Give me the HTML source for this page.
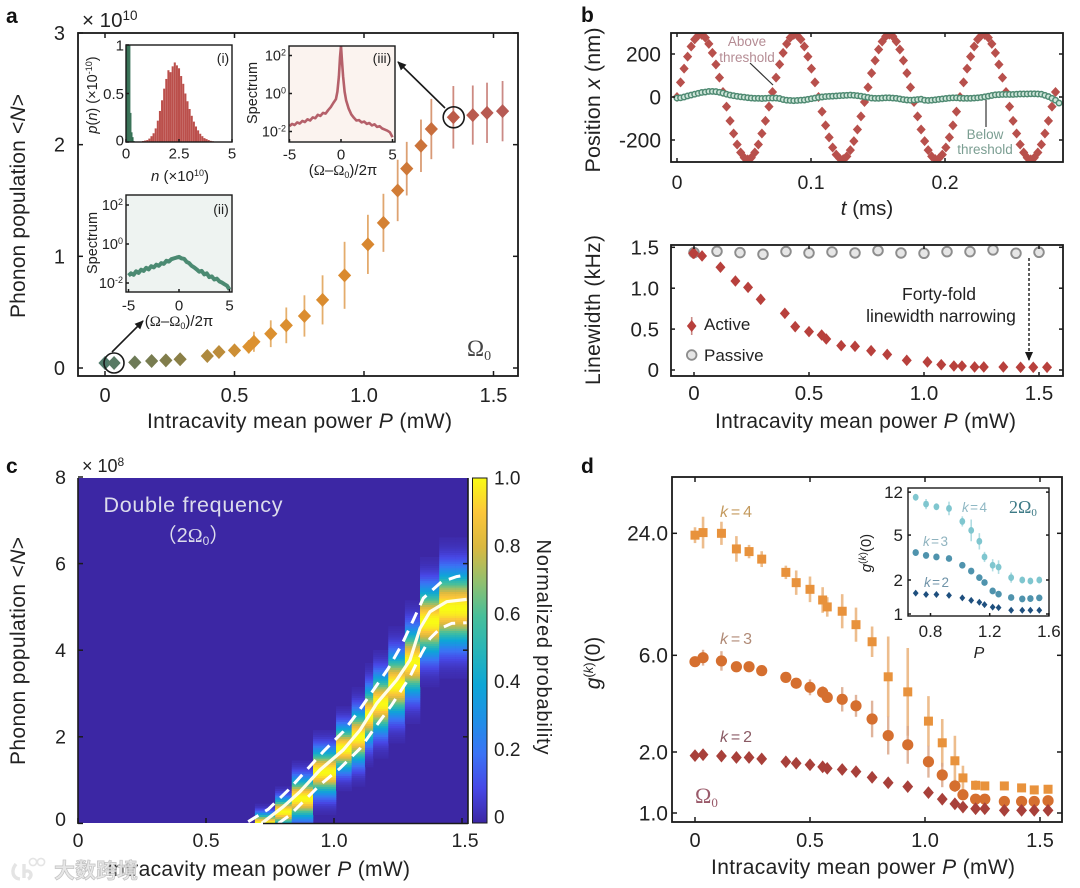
<!DOCTYPE html>
<html lang="en">
<head>
<meta charset="utf-8">
<title>Phonon laser figure</title>
<style>
html,body{margin:0;padding:0;background:#fff;}
svg{display:block;filter:blur(.35px);font-family:"Liberation Sans","Noto Sans CJK SC",sans-serif;fill:#222;}
.serif{font-family:"Liberation Serif","DejaVu Serif",serif;}
</style>
</head>
<body>
<svg id="figure" xmlns="http://www.w3.org/2000/svg" width="1080" height="888" viewBox="0 0 1080 888">
<defs>
<marker id="arrow-head" markerWidth="9" markerHeight="8" refX="8" refY="4" orient="auto" markerUnits="userSpaceOnUse"><path d="M0,0 L9,4 L0,8 Z" fill="#1a1a1a"/></marker>
<clipPath id="clip-a-i"><rect x="126" y="45" width="106" height="97"/></clipPath>
<clipPath id="clip-a-ii"><rect x="126" y="195" width="106" height="97"/></clipPath>
<clipPath id="clip-a-iii"><rect x="289" y="46" width="106" height="96"/></clipPath>
<clipPath id="clip-b-top"><rect x="671" y="33" width="392" height="129"/></clipPath>
<clipPath id="clip-c"><rect x="78" y="478" width="390" height="345"/></clipPath>
<linearGradient id="colorbar-gradient" x1="0" y1="1" x2="0" y2="0"></linearGradient>
</defs>
<rect width="1080" height="888" fill="#fff"/>

<!-- Panel a -->
<g id="panel-a">
  <text x="6" y="23" font-size="21" font-weight="bold" fill="#111">a</text>
  <text x="82" y="27" font-size="20.5">× 10<tspan font-size="13.5" dy="-7">10</tspan></text>
  <rect x="78" y="33" width="440" height="343" fill="none" stroke="#1a1a1a" stroke-width="1.8"/>
  <text transform="translate(25,206) rotate(-90)" text-anchor="middle" font-size="21" textLength="224" lengthAdjust="spacing">Phonon population &lt;<tspan font-style="italic">N</tspan>&gt;</text>
  <text x="147" y="428" font-size="21.2" textLength="305" lengthAdjust="spacing">Intracavity mean power <tspan font-style="italic">P</tspan> (mW)</text>
  <text class="serif" x="467" y="356" font-size="23" fill="#444">Ω<tspan font-size="14" dy="4">0</tspan></text>
  <g id="a-marks"></g>
  <circle cx="114" cy="363" r="10" fill="none" stroke="#1a1a1a" stroke-width="1.6"/>
  <circle cx="453.7" cy="117.3" r="10.5" fill="none" stroke="#1a1a1a" stroke-width="1.6"/>
  <line x1="112" y1="352" x2="143" y2="321" stroke="#1a1a1a" stroke-width="1.6" marker-end="url(#arrow-head)"/>
  <line x1="445" y1="108" x2="398" y2="62" stroke="#1a1a1a" stroke-width="1.6" marker-end="url(#arrow-head)"/>

  <g id="inset-i">
    <rect x="126" y="45" width="106" height="97" fill="#fff"/>
    <g id="inset-i-marks" clip-path="url(#clip-a-i)"></g>
    <rect x="126" y="45" width="106" height="97" fill="none" stroke="#1a1a1a" stroke-width="1.4"/>
    <text x="223" y="63" text-anchor="middle" font-size="14">(i)</text>
    <text transform="translate(97,95) rotate(-90)" text-anchor="middle" font-size="14.5"><tspan font-style="italic">p</tspan>(<tspan font-style="italic">n</tspan>) (×10<tspan font-size="9" dy="-5">-10</tspan><tspan dy="5">)</tspan></text>
    <text x="180" y="181" text-anchor="middle" font-size="15"><tspan font-style="italic">n</tspan> (×10<tspan font-size="9" dy="-5">10</tspan><tspan dy="5">)</tspan></text>
  </g>
  <g id="inset-ii">
    <rect x="126" y="195" width="106" height="97" fill="#eef3f1"/>
    <g id="inset-ii-marks" clip-path="url(#clip-a-ii)"></g>
    <rect x="126" y="195" width="106" height="97" fill="none" stroke="#1a1a1a" stroke-width="1.4"/>
    <text x="221" y="214" text-anchor="middle" font-size="14">(ii)</text>
    <text transform="translate(97,243) rotate(-90)" text-anchor="middle" font-size="14.5">Spectrum</text>
    <text x="179" y="326" text-anchor="middle" font-size="15">(<tspan class="serif">Ω</tspan>–<tspan class="serif">Ω</tspan><tspan font-size="9" dy="3">0</tspan><tspan dy="-3">)/2π</tspan></text>
  </g>
  <g id="inset-iii">
    <rect x="289" y="46" width="106" height="96" fill="#fbf3ef"/>
    <g id="inset-iii-marks" clip-path="url(#clip-a-iii)"></g>
    <rect x="289" y="46" width="106" height="96" fill="none" stroke="#1a1a1a" stroke-width="1.4"/>
    <text x="382" y="63" text-anchor="middle" font-size="14">(iii)</text>
    <text transform="translate(257,93) rotate(-90)" text-anchor="middle" font-size="14.5">Spectrum</text>
    <text x="343" y="175" text-anchor="middle" font-size="15">(<tspan class="serif">Ω</tspan>–<tspan class="serif">Ω</tspan><tspan font-size="9" dy="3">0</tspan><tspan dy="-3">)/2π</tspan></text>
  </g>
</g>

<!-- Panel b -->
<g id="panel-b">
  <text x="581" y="22" font-size="21" font-weight="bold" fill="#111">b</text>
  <g id="b-top-marks" clip-path="url(#clip-b-top)"></g>
  <rect x="671" y="33" width="392" height="129" fill="none" stroke="#1a1a1a" stroke-width="1.8"/>
  <text transform="translate(600,100) rotate(-90)" text-anchor="middle" font-size="21.5" textLength="145" lengthAdjust="spacing">Position <tspan font-style="italic">x</tspan> (nm)</text>
  <text x="867" y="215" text-anchor="middle" font-size="20.5"><tspan font-style="italic">t</tspan> (ms)</text>
  <text x="747" y="46" text-anchor="middle" font-size="13.5" fill="#b58c94">Above</text>
  <text x="747" y="62" text-anchor="middle" font-size="13.5" fill="#b58c94">threshold</text>
  <line x1="750" y1="63" x2="773" y2="85" stroke="#333" stroke-width="1.2"/>
  <text x="985" y="139" text-anchor="middle" font-size="13.5" fill="#7b9e92">Below</text>
  <text x="985" y="154" text-anchor="middle" font-size="13.5" fill="#7b9e92">threshold</text>
  <line x1="986" y1="100" x2="986" y2="127" stroke="#333" stroke-width="1.2"/>

  <g id="b-bottom-marks"></g>
  <rect x="671" y="245" width="392" height="131" fill="none" stroke="#1a1a1a" stroke-width="1.8"/>
  <text transform="translate(600,310) rotate(-90)" text-anchor="middle" font-size="21" textLength="150" lengthAdjust="spacing">Linewidth (kHz)</text>
  <text x="715" y="428" font-size="21" textLength="301" lengthAdjust="spacing">Intracavity mean power <tspan font-style="italic">P</tspan> (mW)</text>
  <line x1="691.7" y1="317" x2="691.7" y2="335" stroke="#c98a86" stroke-width="1.6"/>
  <polygon points="691.7,320 696.5,326 691.7,332 686.9,326" fill="#b8403c"/>
  <text x="704" y="330" font-size="17">Active</text>
  <circle cx="691.7" cy="355" r="4.8" fill="#e6e6e6" stroke="#8d8d8d" stroke-width="1.8"/>
  <text x="704" y="361" font-size="17">Passive</text>
  <text x="939" y="300" text-anchor="middle" font-size="17.5">Forty-fold</text>
  <text x="941" y="322" text-anchor="middle" font-size="17.5">linewidth narrowing</text>
  <line x1="1029" y1="258" x2="1029" y2="360" stroke="#1a1a1a" stroke-width="1.4" stroke-dasharray="3 2" marker-end="url(#arrow-head)"/>
</g>

<!-- Panel c -->
<g id="panel-c">
  <text x="6" y="473" font-size="21" font-weight="bold" fill="#111">c</text>
  <text x="82" y="472" font-size="18">× 10<tspan font-size="12" dy="-6">8</tspan></text>
  <rect x="78" y="478" width="390" height="345" fill="#3c27a4"/>
  <g id="c-cells" clip-path="url(#clip-c)"></g>
  <g id="c-curves" clip-path="url(#clip-c)"></g>
  <line x1="78" y1="478" x2="78" y2="824" stroke="#1a1a1a" stroke-width="1.6"/>
  <line x1="263" y1="823.5" x2="468" y2="823.5" stroke="#1a1a1a" stroke-width="1.6"/>
  <line x1="468" y1="478" x2="468" y2="824" stroke="#1a1a1a" stroke-width="1.6"/>
  <g id="c-ticks"></g>
  <text x="193" y="512" text-anchor="middle" font-size="21.5" fill="#dcdcec" textLength="179" lengthAdjust="spacing">Double frequency</text>
  <text x="193" y="542" text-anchor="middle" font-size="20" fill="#dcdcec">（2<tspan class="serif">Ω</tspan><tspan font-size="12" dy="3">0</tspan><tspan dy="-3">）</tspan></text>
  <rect x="472.5" y="478" width="14.5" height="345" fill="url(#colorbar-gradient)" stroke="#1a1a1a" stroke-width="1"/>
  <g id="c-colorbar-ticks"></g>
  <text transform="translate(537,647) rotate(90)" text-anchor="middle" font-size="20" textLength="215" lengthAdjust="spacing">Normalized probability</text>
  <text transform="translate(25,651) rotate(-90)" text-anchor="middle" font-size="21" textLength="228" lengthAdjust="spacing">Phonon population &lt;<tspan font-style="italic">N</tspan>&gt;</text>
  <text x="107" y="876" font-size="21" textLength="303" lengthAdjust="spacing">Intracavity mean power <tspan font-style="italic">P</tspan> (mW)</text>
</g>

<!-- Panel d -->
<g id="panel-d">
  <text x="581" y="473" font-size="21" font-weight="bold" fill="#111">d</text>
  <g id="d-marks"></g>
  <rect x="672" y="477" width="390" height="345" fill="none" stroke="#1a1a1a" stroke-width="1.8"/>
  <text transform="translate(600,663) rotate(-90)" text-anchor="middle" font-size="21"><tspan font-style="italic">g</tspan><tspan font-size="13" dy="-7">(<tspan font-style="italic">k</tspan>)</tspan><tspan dy="7">(0)</tspan></text>
  <text x="711" y="874" font-size="21" textLength="304" lengthAdjust="spacing">Intracavity mean power <tspan font-style="italic">P</tspan> (mW)</text>
  <text x="720" y="517" font-size="16" fill="#c49a5e" textLength="32" lengthAdjust="spacing"><tspan font-style="italic">k</tspan>=4</text>
  <text x="720" y="644" font-size="16" fill="#b08a76" textLength="32" lengthAdjust="spacing"><tspan font-style="italic">k</tspan>=3</text>
  <text x="720" y="742" font-size="16" fill="#8a5a64" textLength="32" lengthAdjust="spacing"><tspan font-style="italic">k</tspan>=2</text>
  <text class="serif" x="695" y="803" font-size="22" fill="#9a5a6a">Ω<tspan font-size="13" dy="4">0</tspan></text>

  <g id="d-inset">
    <rect x="908" y="488" width="141" height="128" fill="#fff"/>
    <g id="d-inset-marks"></g>
    <rect x="908" y="488" width="141" height="128" fill="none" stroke="#1a1a1a" stroke-width="1.4"/>
    <text transform="translate(871,553) rotate(-90)" text-anchor="middle" font-size="15"><tspan font-style="italic">g</tspan><tspan font-size="10" dy="-5">(<tspan font-style="italic">k</tspan>)</tspan><tspan dy="5">(0)</tspan></text>
    <text x="979" y="658" text-anchor="middle" font-size="16" font-style="italic">P</text>
    <text x="962" y="512" font-size="13.5" fill="#8fb8c4" textLength="25" lengthAdjust="spacing"><tspan font-style="italic">k</tspan>=4</text>
    <text x="923" y="546" font-size="13.5" fill="#8fb3bf" textLength="25" lengthAdjust="spacing"><tspan font-style="italic">k</tspan>=3</text>
    <text x="924" y="587" font-size="13.5" fill="#6f93a8" textLength="25" lengthAdjust="spacing"><tspan font-style="italic">k</tspan>=2</text>
    <text class="serif" x="1009" y="513" font-size="18" fill="#3d7a86">2Ω<tspan font-size="11" dy="3">0</tspan></text>
  </g>
</g>

<!-- Watermark -->
<g id="watermark" opacity="0.92">
  <path d="M16,864 C11,870 12,878 20,879 M24,864 L24,878 M24,872 C30,868 34,876 28,879" fill="none" stroke="#e2e2e2" stroke-width="3.4"/>
  <circle cx="33" cy="862" r="3.6" fill="none" stroke="#e2e2e2" stroke-width="1.6"/>
  <circle cx="41" cy="862" r="3.6" fill="none" stroke="#e2e2e2" stroke-width="1.6"/>
  <text x="54" y="878" font-size="21" font-weight="bold" fill="#e6e6e6" stroke="#bdbdbd" stroke-width="0.7" style="font-family:'Noto Sans CJK SC','Liberation Sans',sans-serif">大数跨境</text>
</g>

<script>
// ---------- shared data ----------
const powerMw = [0,0.035,0.115,0.18,0.235,0.29,0.395,0.44,0.5,0.555,0.575,0.64,0.70,0.77,0.84,0.925,1.015,1.075,1.13,1.165,1.22,1.26,1.345,1.42,1.475,1.535];

// ---------- panel a data ----------
const populationN = [0.045,0.045,0.05,0.063,0.068,0.078,0.107,0.143,0.158,0.19,0.235,0.307,0.382,0.466,0.61,0.83,1.107,1.30,1.59,1.785,1.99,2.14,2.245,2.265,2.285,2.30];
const populationErr = [0.02,0.02,0.02,0.02,0.02,0.02,0.03,0.04,0.05,0.06,0.09,0.12,0.16,0.185,0.22,0.30,0.265,0.26,0.275,0.24,0.235,0.27,0.28,0.265,0.27,0.27];
const aXTicks = [0,0.5,1.0,1.5];
const aXTickLabels = ['0','0.5','1.0','1.5'];
const aYTicks = [0,1,2,3];
const aYTickLabels = ['0','1','2','3'];

const histAboveN = [0.5,0.6,0.7,0.8,0.9,1.0,1.1,1.2,1.3,1.4,1.5,1.6,1.7,1.8,1.9,2.0,2.1,2.2,2.3,2.4,2.5,2.6,2.7,2.8,2.9,3.0,3.1,3.2,3.3,3.4,3.5,3.6,3.7,3.8,3.9,4.0,4.1,4.2,4.3,4.4,4.5];
const histAboveP = [0,0,0.005,0.01,0.015,0.02,0.035,0.06,0.09,0.14,0.22,0.32,0.43,0.55,0.65,0.74,0.72,0.78,0.82,0.79,0.76,0.68,0.6,0.5,0.42,0.34,0.27,0.21,0.16,0.12,0.085,0.06,0.04,0.03,0.02,0.012,0.008,0.005,0,0,0];
const histBelowN = [0,0.05,0.1,0.15,0.2,0.25,0.3,0.35];
const histBelowP = [1,1,1,1,0.3,0.1,0.05,0.01];

const detuningII = [-5,-4.75,-4.5,-4.25,-4,-3.75,-3.5,-3.25,-3,-2.75,-2.5,-2.25,-2,-1.75,-1.5,-1.25,-1,-0.75,-0.5,-0.25,0,0.25,0.5,0.75,1,1.25,1.5,1.75,2,2.25,2.5,2.75,3,3.25,3.5,3.75,4,4.25,4.5,4.75,5];
const spectrumIILog = [-1.62,-1.5,-1.58,-1.4,-1.48,-1.32,-1.38,-1.22,-1.3,-1.14,-1.2,-1.06,-1.12,-0.98,-1.02,-0.86,-0.9,-0.78,-0.74,-0.7,-0.66,-0.74,-0.76,-0.92,-0.98,-1.12,-1.2,-1.3,-1.42,-1.38,-1.56,-1.5,-1.7,-1.66,-1.82,-1.78,-1.92,-1.98,-2.06,-2.14,-2.34];
const detuningIII = [-5,-4.75,-4.5,-4.25,-4,-3.75,-3.5,-3.25,-3,-2.75,-2.5,-2.25,-2,-1.75,-1.5,-1.25,-1,-0.75,-0.5,-0.35,-0.2,-0.1,0,0.1,0.2,0.35,0.5,0.75,1,1.25,1.5,1.75,2,2.25,2.5,2.75,3,3.25,3.5,3.75,4,4.25,4.5,4.75,5];
const spectrumIIILog = [-1.72,-1.6,-1.66,-1.52,-1.58,-1.44,-1.5,-1.36,-1.42,-1.26,-1.3,-1.12,-1.18,-1.02,-1.06,-0.88,-0.72,-0.5,-0.3,0.1,0.9,1.9,2.5,1.7,0.9,0.1,-0.35,-0.8,-1.1,-1.28,-1.42,-1.4,-1.52,-1.48,-1.6,-1.55,-1.68,-1.62,-1.76,-1.72,-1.84,-1.9,-1.96,-2.04,-2.3];
const spectrumExponents = [2,0,-2];
const detuningTicks = [-5,0,5];
const detuningTickLabels = ['-5','0','5'];
const histXTicks = [0,2.5,5];
const histXTickLabels = ['0','2.5','5'];
const histYTicks = [0,0.5,1];
const histYTickLabels = ['0','0.5','1'];

// ---------- panel b data ----------
const aboveThresholdNm = [0,68,132,188,235,268,286,289,276,247,205,151,90,23,-45,-111,-170,-221,-258,-282,-290,-282,-258,-221,-170,-111,-45,23,90,152,205,247,276,289,286,268,235,188,132,68,0,-68,-132,-188,-235,-268,-286,-289,-276,-247,-205,-151,-90,-23,45,111,170,221,258,282,290,282,258,221,170,111,45,-23,-90,-151,-205,-247,-276,-289,-286,-268,-235,-188,-132,-68,0,68,132,188,235,268,286,289,276,247,205,151,90,23,-45,-111,-170,-221,-258,-282,-290,-282,-258,-221,-170,-111,-45,23];
const belowThresholdNm = [-5,-4,0,5,9,13,17,21,23,26,26,25,22,18,13,9,6,3,1,-1,-3,-5,-6,-6,-7,-6,-5,-5,-5,-7,-12,-15,-16,-17,-16,-15,-14,-11,-8,-5,-2,0,2,3,4,5,6,7,8,9,8,6,4,1,-2,-5,-6,-6,-5,-4,-4,-5,-6,-9,-12,-14,-15,-14,-12,-10,-15,-16,-15,-13,-11,-9,-7,-5,-4,-4,-5,-6,-6,-6,-5,-4,-2,1,4,7,10,11,12,12,12,12,13,14,14,14,15,15,14,13,8,2,-6,-15,-28];
const sampleStepMs = 0.00264;
const bTopXTicks = [0,0.1,0.2];
const bTopXTickLabels = ['0','0.1','0.2'];
const bTopYTicks = [200,0,-200];
const bTopYTickLabels = ['200','0','-200'];

const activePower = [-0.004,0,0.035,0.115,0.18,0.235,0.29,0.395,0.44,0.5,0.555,0.575,0.64,0.70,0.77,0.84,0.925,1.015,1.075,1.13,1.165,1.22,1.26,1.345,1.42,1.475,1.535];
const activeLinewidth = [1.427,1.427,1.394,1.256,1.088,1.01,0.864,0.693,0.53,0.469,0.428,0.379,0.298,0.289,0.236,0.19,0.118,0.098,0.065,0.049,0.049,0.037,0.037,0.037,0.033,0.033,0.033];
const passivePower = [0,0.1,0.2,0.3,0.4,0.5,0.6,0.7,0.8,0.9,1.0,1.1,1.2,1.3,1.4,1.5];
const passiveLinewidth = [1.435,1.451,1.435,1.415,1.448,1.431,1.443,1.431,1.46,1.431,1.427,1.447,1.447,1.468,1.427,1.439];
const bBotXTicks = [0,0.5,1.0,1.5];
const bBotXTickLabels = ['0','0.5','1.0','1.5'];
const bBotYTicks = [1.5,1.0,0.5,0];
const bBotYTickLabels = ['1.5','1.0','0.5','0'];

// ---------- panel c data ----------
const binEdgesP = [0.691,0.77,0.835,0.918,1.008,1.069,1.121,1.153,1.212,1.277,1.336,1.411,1.473,1.525];
const columnMeanN = [0.0,0.27,0.58,1.19,1.73,2.0,2.5,2.77,3.2,3.73,4.66,4.97,4.97];
const columnSigmaN = [0.15,0.2,0.3,0.33,0.33,0.38,0.4,0.42,0.45,0.48,0.5,0.55,0.55];
const solidCurveP = [0.717,0.802,0.867,0.945,1.036,1.102,1.167,1.245,1.297,1.336,1.375,1.44,1.518];
const solidCurveN = [0,0.386,0.733,1.233,1.695,2.157,2.774,3.312,3.774,4.505,4.889,5.12,5.173];
const upperCurveP = [0.665,0.743,0.822,0.893,0.958,1.036,1.095,1.154,1.212,1.264,1.31,1.349,1.42,1.479,1.518];
const upperCurveN = [0.04,0.326,0.771,1.233,1.656,2.118,2.58,3.08,3.58,4.12,4.70,5.2,5.58,5.70,5.74];
const lowerCurveP = [0.783,0.828,0.945,1.023,1.102,1.167,1.225,1.297,1.342,1.375,1.414,1.46,1.518];
const lowerCurveN = [0,0.194,0.887,1.27,1.73,2.27,2.73,3.39,3.93,4.27,4.5,4.62,4.635];
const cXTicks = [0,0.5,1.0,1.5];
const cXTickLabels = ['0','0.5','1.0','1.5'];
const cYTicks = [0,2,4,6,8];
const cYTickLabels = ['0','2','4','6','8'];
const colorbarTicks = [0,0.2,0.4,0.6,0.8,1.0];
const colorbarTickLabels = ['0','0.2','0.4','0.6','0.8','1.0'];

// ---------- panel d data ----------
const gK4 = [23.5,24.2,24.0,20.1,19.5,17.9,15.4,13.7,12.7,11.25,10.4,9.9,8.5,7.0,4.7,3.96,2.84,2.22,1.81,1.49,1.37,1.36,1.36,1.33,1.30,1.31];
const gK4ErrOctaves = [0.13,0.26,0.19,0.21,0.11,0.13,0.11,0.2,0.21,0.21,0.16,0.28,0.28,0.25,0.66,0.72,0.41,0.39,0.41,0.2,0.08,0.07,0.07,0.07,0.07,0.07];
const gK3 = [5.58,5.84,5.63,5.27,5.27,5.04,4.67,4.37,4.17,3.94,3.72,3.64,3.38,2.91,2.41,2.17,1.79,1.54,1.36,1.23,1.17,1.17,1.14,1.14,1.14,1.15];
const gK3ErrOctaves = [0.05,0.13,0.16,0.07,0.05,0.07,0.05,0.05,0.13,0.1,0.07,0.2,0.18,0.3,0.31,0.31,0.26,0.2,0.1,0.05,0.04,0.04,0.04,0.04,0.04,0.04];
const gK2 = [1.92,1.94,1.91,1.88,1.88,1.85,1.79,1.76,1.73,1.69,1.66,1.64,1.60,1.50,1.41,1.35,1.26,1.17,1.11,1.07,1.05,1.05,1.03,1.03,1.03,1.03];
const gK2ErrOctaves = [0.05,0.05,0.05,0.05,0.05,0.05,0.05,0.05,0.05,0.05,0.05,0.05,0.05,0.05,0.06,0.06,0.06,0.06,0.05,0.05,0.05,0.05,0.05,0.05,0.05,0.05];
const dXTicks = [0,0.5,1.0,1.5];
const dXTickLabels = ['0','0.5','1.0','1.5'];
const dYTicks = [24,6,2,1];
const dYTickLabels = ['24.0','6.0','2.0','1.0'];

const insetPower = [0.70,0.77,0.84,0.925,1.015,1.075,1.13,1.165,1.22,1.26,1.345,1.42,1.475,1.535];
const insetK4 = [10.8,9.4,8.9,8.6,6.6,5.5,4.4,3.2,2.7,2.6,2.1,2.0,1.96,2.0];
const insetK4ErrOctaves = [0.1,0.15,0.1,0.2,0.15,0.32,0.24,0.15,0.18,0.2,0.15,0.1,0.1,0.1];
const insetK3 = [3.5,3.3,3.2,3.1,2.7,2.4,2.1,1.9,1.6,1.5,1.4,1.36,1.37,1.39];
const insetK2 = [1.53,1.49,1.49,1.46,1.39,1.32,1.27,1.21,1.15,1.14,1.08,1.08,1.08,1.08];
const insetXTicks = [0.8,1.2,1.6];
const insetXTickLabels = ['0.8','1.2','1.6'];
const insetYTicks = [12,5,2,1];
const insetYTickLabels = ['12','5','2','1'];

// ---------- helpers ----------
const NS = 'http://www.w3.org/2000/svg';
function add(parent, tag, attrs, name, text) {
  const el = document.createElementNS(NS, tag);
  for (const k in attrs) el.setAttribute(k, attrs[k]);
  
  
  if (text !== undefined) el.textContent = text;
  parent.appendChild(el);
  return el;
}
const $ = id => document.getElementById(id);
function diamond(p, x, y, hw, hh, fill, name) {
  return add(p, 'polygon', {points: `${x},${y-hh} ${x+hw},${y} ${x},${y+hh} ${x-hw},${y}`, fill: fill}, name);
}
function vbar(p, x, y1, y2, color, w, op, name) {
  return add(p, 'line', {x1: x, x2: x, y1: y1, y2: y2, stroke: color, 'stroke-width': w, opacity: op}, name);
}
function tickLine(p, x1, y1, x2, y2, name, color) {
  return add(p, 'line', {x1: x1, y1: y1, x2: x2, y2: y2, stroke: color || '#1a1a1a', 'stroke-width': 1.5}, name);
}
function label(p, x, yc, str, size, anchor, name, fill) {
  return add(p, 'text', {x: x, y: yc + size * 0.35, 'font-size': size, 'text-anchor': anchor, fill: fill || '#222'}, name, str);
}
function hexToRgb(h) { return [parseInt(h.slice(1,3),16), parseInt(h.slice(3,5),16), parseInt(h.slice(5,7),16)]; }
function ramp(stops, colors, v) {
  if (v <= stops[0]) return colors[0];
  for (let i = 1; i < stops.length; i++) {
    if (v <= stops[i]) {
      const t = (v - stops[i-1]) / (stops[i] - stops[i-1]);
      const a = hexToRgb(colors[i-1]), b = hexToRgb(colors[i]);
      return 'rgb(' + a.map((c, j) => Math.round(c + (b[j] - c) * t)).join(',') + ')';
    }
  }
  return colors[colors.length-1];
}
function framedTicks(p, xs, ys, sx, sy, box, len, prefix) {
  xs.forEach(v => {
    tickLine(p, sx(v), box.b, sx(v), box.b - len, prefix + '-x-tick');
    tickLine(p, sx(v), box.t, sx(v), box.t + len, prefix + '-x-tick-top');
  });
  ys.forEach(v => {
    tickLine(p, box.l, sy(v), box.l + len, sy(v), prefix + '-y-tick');
    tickLine(p, box.r, sy(v), box.r - len, sy(v), prefix + '-y-tick-right');
  });
}
function powerTick(p, xRight, yc, exp, name) {
  const t = add(p, 'text', {x: xRight, y: yc + 5, 'font-size': 14.5, 'text-anchor': 'end'}, name, '10');
  add(t, 'tspan', {dy: -5, 'font-size': 9}, name + '-exponent', String(exp));
  return t;
}
function polyPath(xs, ys) {
  return xs.map((x, i) => (i ? 'L' : 'M') + x.toFixed(1) + ',' + ys[i].toFixed(1)).join(' ');
}

// ---------- panel a ----------
const aX = p => 105 + 259 * p;
const aY = n => 368 - 111.67 * n;
const aColorStops = [0, 0.1, 0.3, 0.4, 0.55, 1.0, 1.25, 1.35, 1.55];
const aColors = ['#4f7a6a', '#6a7a58', '#8c7f45', '#b08a3e', '#dc9230', '#d9882f', '#c9703c', '#bb5a4a', '#b65a55'];
(function () {
  const g = $('a-marks');
  framedTicks(g, aXTicks, aYTicks, aX, aY, {l: 78, r: 518, t: 33, b: 376}, 5, 'a');
  aXTicks.forEach((v, i) => label(g, aX(v), 395, aXTickLabels[i], 20, 'middle', 'a-x-tick-label'));
  aYTicks.forEach((v, i) => label(g, 65, aY(v), aYTickLabels[i], 20, 'end', 'a-y-tick-label'));
  powerMw.forEach((p, i) => {
    const c = ramp(aColorStops, aColors, p);
    vbar(g, aX(p), aY(populationN[i] + populationErr[i]), aY(populationN[i] - populationErr[i]), c, 1.8, 0.7, 'population-errorbar');
  });
  powerMw.forEach((p, i) => {
    const c = ramp(aColorStops, aColors, p);
    diamond(g, aX(p), aY(populationN[i]), 6.6, 7, c, 'population-point');
  });

  // inset i
  const hx = n => 126 + 21.2 * n, hy = v => 142 - 97 * v;
  const gi = $('inset-i-marks');
  histAboveN.forEach((n, i) => add(gi, 'rect', {x: hx(n) - 1, y: hy(histAboveP[i]), width: 2.05, height: 97 * histAboveP[i], fill: '#bb4f4b'}, 'histogram-above-bar'));
  histBelowN.forEach((n, i) => add(gi, 'rect', {x: hx(n), y: hy(histBelowP[i]), width: 1.2, height: 97 * histBelowP[i], fill: '#2f6b4f'}, 'histogram-below-bar'));
  const ti = $('inset-i');
  histXTicks.forEach((v, i) => {
    tickLine(ti, hx(v), 142, hx(v), 139, 'inset-i-x-tick');
    label(ti, hx(v), 153, histXTickLabels[i], 15, 'middle', 'inset-i-x-tick-label');
  });
  histYTicks.forEach((v, i) => {
    tickLine(ti, 126, hy(v), 129, hy(v), 'inset-i-y-tick');
    label(ti, 124, Math.min(hy(v), 140), histYTickLabels[i], 15, 'end', 'inset-i-y-tick-label');
  });

  // inset ii
  const x2 = d => 179 + 10.1 * d, y2 = l => 244 - 19.5 * l;
  add($('inset-ii-marks'), 'path', {d: polyPath(detuningII.map(x2), spectrumIILog.map(y2)), fill: 'none', stroke: '#4b8a72', 'stroke-width': 4, 'stroke-linejoin': 'round'}, 'spectrum-ii-trace');
  const t2 = $('inset-ii');
  detuningTicks.forEach((v, i) => {
    tickLine(t2, x2(v), 292, x2(v), 289, 'inset-ii-x-tick');
    label(t2, x2(v), 305, detuningTickLabels[i], 15, 'middle', 'inset-ii-x-tick-label');
  });
  spectrumExponents.forEach(e => {
    tickLine(t2, 126, y2(e), 129, y2(e), 'inset-ii-y-tick');
    powerTick(t2, 123, y2(e), e, 'inset-ii-y-tick-label');
  });

  // inset iii
  const x3 = d => 341 + 10.3 * d, y3 = l => 93.5 - 19 * l;
  add($('inset-iii-marks'), 'path', {d: polyPath(detuningIII.map(x3), spectrumIIILog.map(y3)), fill: 'none', stroke: '#b5606a', 'stroke-width': 2.6, 'stroke-linejoin': 'round'}, 'spectrum-iii-trace');
  const t3 = $('inset-iii');
  detuningTicks.forEach((v, i) => {
    tickLine(t3, x3(v), 142, x3(v), 139, 'inset-iii-x-tick');
    label(t3, x3(v), 154, detuningTickLabels[i], 15, 'middle', 'inset-iii-x-tick-label');
  });
  spectrumExponents.forEach(e => {
    tickLine(t3, 289, y3(e), 292, y3(e), 'inset-iii-y-tick');
    powerTick(t3, 286, y3(e), e, 'inset-iii-y-tick-label');
  });
})();

// ---------- panel b ----------
(function () {
  const tX = t => 677 + 1340 * t, xY = v => 97 - 0.215 * v;
  const g = $('b-top-marks');
  aboveThresholdNm.forEach((v, i) => diamond(g, tX(i * sampleStepMs), xY(v), 4.6, 5, '#b8504c', 'above-threshold-point'));
  belowThresholdNm.forEach((v, i) => add(g, 'circle', {cx: tX(i * sampleStepMs), cy: xY(v), r: 2.7, fill: '#cfe6da', stroke: '#4f8a72', 'stroke-width': 1.5}, 'below-threshold-point'));
  const p = $('panel-b');
  framedTicks(p, bTopXTicks, bTopYTicks, tX, xY, {l: 671, r: 1063, t: 33, b: 162}, 4, 'b-top');
  bTopXTicks.forEach((v, i) => label(p, tX(v), 182, bTopXTickLabels[i], 19.5, 'middle', 'b-top-x-tick-label'));
  bTopYTicks.forEach((v, i) => label(p, 661, xY(v), bTopYTickLabels[i], 21, 'end', 'b-top-y-tick-label'));

  const pX = v => 694 + 230 * v, wY = v => 370 - 81.8 * v;
  const b = $('b-bottom-marks');
  passivePower.forEach((v, i) => add(b, 'circle', {cx: pX(v), cy: wY(passiveLinewidth[i]), r: 4.8, fill: '#e6e6e6', stroke: '#8d8d8d', 'stroke-width': 1.9}, 'passive-point'));
  activePower.forEach((v, i) => diamond(b, pX(v), wY(activeLinewidth[i]), 5, 5.8, '#b8403c', 'active-point'));
  framedTicks(p, bBotXTicks, bBotYTicks, pX, wY, {l: 671, r: 1063, t: 245, b: 376}, 4, 'b-bottom');
  bBotXTicks.forEach((v, i) => label(p, pX(v), 393, bBotXTickLabels[i], 20.5, 'middle', 'b-bottom-x-tick-label'));
  bBotYTicks.forEach((v, i) => label(p, 659, wY(v), bBotYTickLabels[i], 20.5, 'end', 'b-bottom-y-tick-label'));
})();

// ---------- panel c ----------
const cmapStops = [0, 0.1, 0.2, 0.3, 0.4, 0.5, 0.6, 0.7, 0.8, 0.9, 1.0];
const cmapColors = ['#3c27a4', '#4748e6', '#3b73f5', '#1f90e6', '#0ea6d6', '#28b5b8', '#48bf9a', '#92c06e', '#dab840', '#fcc63a', '#f9fb15'];
(function () {
  const cX = p => 78 + 256 * p, cY = n => 823.4 - 43.3 * n;
  const cells = $('c-cells');
  const stepN = 0.05;
  columnMeanN.forEach((mu, c) => {
    const sig = columnSigmaN[c];
    const x0 = cX(binEdgesP[c]), x1 = cX(binEdgesP[c + 1]);
    for (let k = 0; k < 160; k++) {
      const n = k * stepN;
      const v = Math.exp(-Math.pow(n + stepN / 2 - mu, 2) / (2 * sig * sig));
      if (v < 0.012) continue;
      add(cells, 'rect', {x: x0, y: cY(n + stepN) - 0.2, width: x1 - x0 + 0.3, height: 43.3 * stepN + 0.4, fill: ramp(cmapStops, cmapColors, v)}, 'heatmap-cell');
    }
  });
  const curves = $('c-curves');
  add(curves, 'path', {d: polyPath(solidCurveP.map(cX), solidCurveN.map(cY)), fill: 'none', stroke: '#fffde8', 'stroke-width': 3.2, 'stroke-linejoin': 'round'}, 'mean-curve');
  add(curves, 'path', {d: polyPath(upperCurveP.map(cX), upperCurveN.map(cY)), fill: 'none', stroke: '#fff', 'stroke-width': 3, 'stroke-dasharray': '12 8'}, 'upper-bound-curve');
  add(curves, 'path', {d: polyPath(lowerCurveP.map(cX), lowerCurveN.map(cY)), fill: 'none', stroke: '#fff', 'stroke-width': 3, 'stroke-dasharray': '12 8'}, 'lower-bound-curve');
  const t = $('c-ticks');
  cXTicks.forEach((v, i) => {
    tickLine(t, cX(v), 823, cX(v), 818, 'c-x-tick');
    label(t, v === 1.5 ? 465 : cX(v), 840, cXTickLabels[i], 19.5, 'middle', 'c-x-tick-label');
  });
  cYTicks.forEach((v, i) => {
    tickLine(t, 78, cY(v), 83, cY(v), 'c-y-tick');
    if (v > 0 && v < 8) tickLine(t, 468, cY(v), 463, cY(v), 'c-y-tick-right');
    label(t, 66, cY(v) - (v === 0 ? 4 : 0), cYTickLabels[i], 19.5, 'end', 'c-y-tick-label');
  });
  const grad = $('colorbar-gradient');
  cmapStops.forEach((s, i) => add(grad, 'stop', {offset: s, 'stop-color': cmapColors[i]}, 'colorbar-stop'));
  const cb = $('c-colorbar-ticks');
  const cbY = v => 478 + (1 - v) * 339;
  colorbarTicks.forEach((v, i) => label(cb, 494, cbY(v), colorbarTickLabels[i], 19, 'start', 'colorbar-tick-label'));
})();

// ---------- panel d ----------
(function () {
  const dX = p => 695 + 230 * p, dY = g => 813 - 61 * Math.log2(g);
  const m = $('d-marks');
  framedTicks(m, dXTicks, dYTicks, dX, dY, {l: 672, r: 1062, t: 477, b: 822}, 5, 'd');
  dXTicks.forEach((v, i) => label(m, dX(v), 840, dXTickLabels[i], 20, 'middle', 'd-x-tick-label'));
  dYTicks.forEach((v, i) => label(m, 668, dY(v), dYTickLabels[i], 21, 'end', 'd-y-tick-label'));
  powerMw.forEach((p, i) => {
    const y = dY(gK4[i]), e = 61 * gK4ErrOctaves[i];
    vbar(m, dX(p), y - e, y + e, '#eab27a', 2.6, 0.85, 'k4-errorbar');
  });
  powerMw.forEach((p, i) => {
    add(m, 'rect', {x: dX(p) - 4.5, y: dY(gK4[i]) - 4.5, width: 9, height: 9, fill: '#e8923c'}, 'k4-point');
  });
  powerMw.forEach((p, i) => {
    const y = dY(gK3[i]), e = 61 * gK3ErrOctaves[i];
    vbar(m, dX(p), y - e, y + e, '#dba88a', 2.4, 0.85, 'k3-errorbar');
  });
  powerMw.forEach((p, i) => {
    add(m, 'circle', {cx: dX(p), cy: dY(gK3[i]), r: 5.6, fill: '#d56f2f'}, 'k3-point');
  });
  powerMw.forEach((p, i) => {
    const y = dY(gK2[i]), e = 61 * gK2ErrOctaves[i];
    vbar(m, dX(p), y - e, y + e, '#c98a86', 1.6, 0.8, 'k2-errorbar');
    diamond(m, dX(p), y, 5.4, 6.4, '#a8403a', 'k2-point');
  });

  const iX = p => 930.5 + 148 * (p - 0.8), iY = g => 614 - 34 * Math.log2(g);
  const im = $('d-inset-marks');
  const ip = $('d-inset');
  insetPower.forEach((p, i) => {
    const y = iY(insetK4[i]), e = 34 * insetK4ErrOctaves[i];
    vbar(im, iX(p), y - e, y + e, '#a8d9df', 1.6, 0.9, 'inset-k4-errorbar');
    add(im, 'ellipse', {cx: iX(p), cy: y, rx: 2.9, ry: 3.4, fill: '#7fc6cf'}, 'inset-k4-point');
  });
  insetPower.forEach((p, i) => add(im, 'ellipse', {cx: iX(p), cy: iY(insetK3[i]), rx: 3.2, ry: 3.4, fill: '#4f93ad'}, 'inset-k3-point'));
  insetPower.forEach((p, i) => diamond(im, iX(p), iY(insetK2[i]), 2.9, 3.5, '#1e4f7e', 'inset-k2-point'));
  insetXTicks.forEach((v, i) => {
    tickLine(ip, iX(v), 616, iX(v), 613, 'd-inset-x-tick');
    label(ip, iX(v), 631, insetXTickLabels[i], 17, 'middle', 'd-inset-x-tick-label');
  });
  insetYTicks.forEach((v, i) => {
    tickLine(ip, 908, iY(v), 911, iY(v), 'd-inset-y-tick');
    tickLine(ip, 1049, iY(v), 1046, iY(v), 'd-inset-y-tick-right');
    label(ip, 903, iY(v), insetYTickLabels[i], 17, 'end', 'd-inset-y-tick-label');
  });
})();
</script>
</svg>
</body>
</html>
